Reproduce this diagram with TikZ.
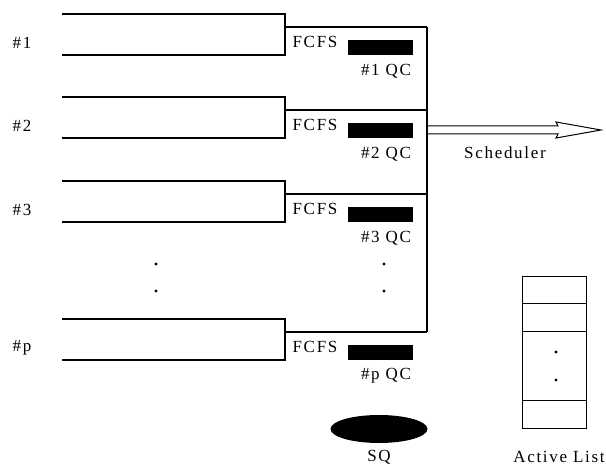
\documentclass[tikz,border=0pt]{standalone}
\usepackage{fontspec}
\setmainfont{Liberation Serif}[LetterSpace=10]
\usetikzlibrary{shapes.geometric}
\begin{document}
\begin{tikzpicture}[x=1pt,y=-1pt,line width=1.2pt,
  lbl/.style={font=\fontsize{17}{19}\selectfont,inner sep=0pt},
  qcbox/.style={fill=black,draw=none,minimum width=65pt,minimum height=15pt,inner sep=0pt},
  vdot/.style={circle,fill=black,draw=none,inner sep=0pt,minimum size=3.2pt},
  qline/.style={line width=1.2pt}]
\useasboundingbox (0,0) rectangle (606,465);
% queues
\foreach \t/\n/\l in {14/1/\#1,97/2/\#2,181/3/\#3,319/p/\#p}{
  \coordinate (qtl\n) at (62,\t);
  \coordinate (qtr\n) at (285,\t);
  \coordinate (qbr\n) at (285,\t+41);
  \coordinate (qbl\n) at (62,\t+41);
  \coordinate (qc\n) at (285,\t+13);
  \coordinate (bc\n) at (427,\t+13);
  \draw[qline] (qtl\n) -- (qtr\n) -- (qbr\n) -- (qbl\n);
  \draw[qline] (qc\n) -- (bc\n);
  \node[lbl] (lab\n) at (22,\t+29) {\l};
  \node[lbl] (fcfs\n) at (315,\t+28) {FCFS};
  \node[qcbox] (box\n) at (380,\t+34) {};
  \node[lbl] (qct\n) at (386,\t+57) {\l\ QC};
}
\draw[qline] (bc1) -- (bcp);
% dots
\node[vdot] (ld1) at (156,264) {};
\node[vdot] (ld2) at (156,291) {};
\node[vdot] (rd1) at (384,264) {};
\node[vdot] (rd2) at (384,291) {};
% scheduler arrow
\coordinate (a0) at (427,126);
\draw[line width=1pt] (a0) -- (558,126) -- (556,122) -- (601,130) -- (556,138) -- (558,134) -- (427,134);
\node[lbl] (sched) at (505,153) {Scheduler};
% SQ
\node[ellipse,fill=black,draw=none,minimum width=97pt,minimum height=28pt,inner sep=0pt] (sq) at (379,429) {};
\node[lbl] (sqt) at (379,457) {SQ};
% active list
\draw[line width=1pt] (522,277) rectangle (586,429);
\foreach \yy in {304,332,401}{\draw[line width=1pt] (522,\yy) -- (586,\yy);}
\node[vdot] (ad1) at (556,352) {};
\node[vdot] (ad2) at (556,380) {};
\node[lbl] (al) at (559,457) {Active List};
\end{tikzpicture}
\end{document}
